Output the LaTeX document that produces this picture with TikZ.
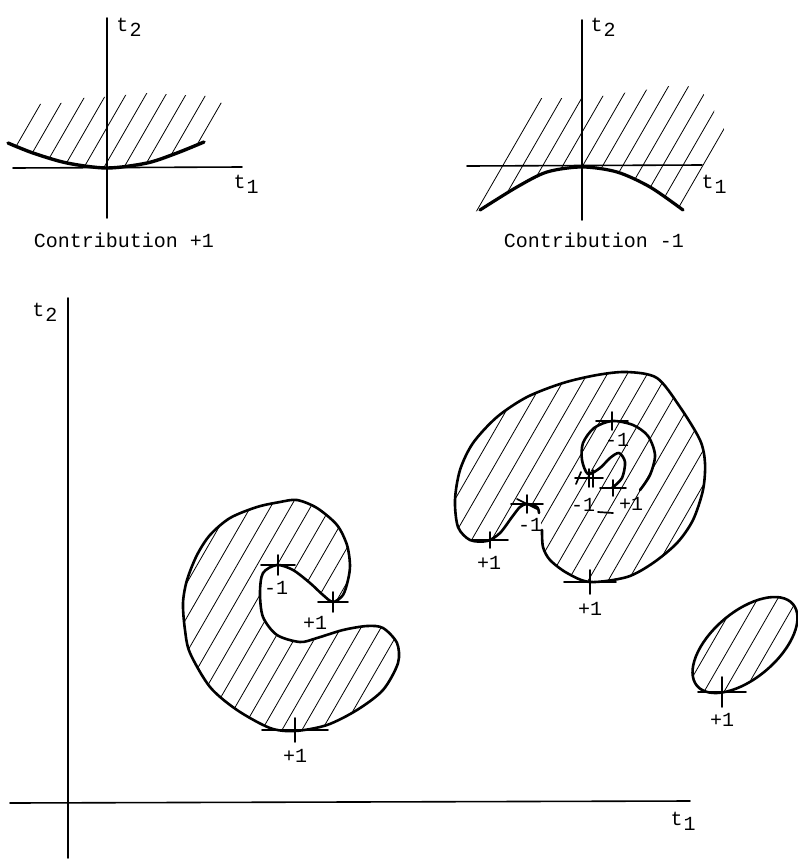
\documentclass[tikz,border=0pt]{standalone}
\usepackage{fontspec}
\setmonofont{Liberation Mono}

\tikzset{
  axis/.style={line width=1.6pt},
  bound/.style={line width=2.6pt},
  hatch/.style={line width=0.8pt},
  tanline/.style={line width=1.7pt},
  lbl/.style={font=\ttfamily\fontsize{20}{20}\selectfont, inner sep=0pt},
}
% hatch lines across the page, to be clipped
\newcommand{\hatchlines}[1]{\foreach \k in {-25,...,40} \draw[hatch] ({\k*20+#1},860) -- ++(496,-860);}
% tangent mark: point, half width, half height
\newcommand{\tanmark}[3]{\draw[tanline] (#1) ++(-#2,0) -- ++({2*#2},0);
  \draw[tanline] (#1) ++(0,-#3) -- ++(0,{2*#3});}
\newcommand{\tsub}[1]{t\kern1pt\raisebox{-0.5ex}{#1}}

\begin{document}
\begin{tikzpicture}[x=1pt,y=-1pt,line cap=round,line join=round]
\useasboundingbox (0,0) rectangle (798,860);

% ---- small picture: contribution +1
\begin{scope}
\clip plot[smooth] coordinates {(8,143) (33,153) (67,163) (107,168) (147,163) (177,153) (204,142)}
  -- (224,104) -- (206,96) -- (185,95) -- (146,93) -- (125,95) -- (103,97) -- (83,98) -- (61,103) -- (36,104) -- cycle;
\hatchlines{4.5}
\end{scope}
\draw[axis] (13,168) -- (242,167);
\draw[axis] (107,18) -- (107,218);
\draw[line width=3.4pt] plot[smooth] coordinates {(8,143) (33,153) (67,163) (107,168) (147,163) (177,153) (204,142)};
\node[lbl] (t2a) at (129,27) {\tsub{2}};
\node[lbl] (t1a) at (246,184) {\tsub{1}};
\node[lbl] (capa) at (124,240) {Contribution +1};

% ---- small picture: contribution -1
\begin{scope}
\clip plot[smooth] coordinates {(480,210) (517,187) (547,172) (582,167) (617,172) (650,187) (683,210)}
  -- (686,210) -- (726,132) -- (715,112) -- (705,95) -- (688,86) -- (667,86) -- (645,90) -- (623,93)
  -- (602,96) -- (580,98) -- (559,98) -- (535,98) -- (474,212) -- cycle;
\hatchlines{2.3}
\end{scope}
\draw[axis] (467,166) -- (702,165);
\draw[axis] (582,20) -- (582,220);
\draw[line width=3.2pt] plot[smooth] coordinates {(480,210) (517,187) (547,172) (582,167) (617,172) (650,187) (683,210)};
\node[lbl] (t2b) at (603,27) {\tsub{2}};
\node[lbl] (t1b) at (714,184) {\tsub{1}};
\node[lbl] (capb) at (594,240) {Contribution -1};

% ---- main axes
\draw[axis] (68,298) -- (68,858);
\draw[axis] (10,803) -- (690,801);
\node[lbl] (t2) at (45,312) {\tsub{2}};
\node[lbl] (t1) at (683,821) {\tsub{1}};

% left region (C shape)
\begin{scope}
\clip plot[smooth cycle] coordinates {(333,602) (343,595) (348,580) (350,565) (347,545) (337,525) (317,508) (297,500)
  (280,502) (257,507) (230,518) (210,535) (197,555) (187,580) (183,603) (185,630) (190,653) (210,687) (237,710)
  (270,728) (295,731) (327,725) (357,710) (383,690) (398,663) (397,643) (383,628) (367,626) (343,630) (317,638)
  (300,642) (277,635) (263,617) (260,593) (263,573) (277,565) (293,570) (310,583) (323,595)};
\hatchlines{7}
\end{scope}
\draw[bound] plot[smooth cycle] coordinates {(333,602) (343,595) (348,580) (350,565) (347,545) (337,525) (317,508) (297,500)
  (280,502) (257,507) (230,518) (210,535) (197,555) (187,580) (183,603) (185,630) (190,653) (210,687) (237,710)
  (270,728) (295,731) (327,725) (357,710) (383,690) (398,663) (397,643) (383,628) (367,626) (343,630) (317,638)
  (300,642) (277,635) (263,617) (260,593) (263,573) (277,565) (293,570) (310,583) (323,595)};

% middle region with the hole
\begin{scope}
\clip plot[smooth cycle] coordinates {(542,530) (543,547) (550,560) (567,573) (590,582) (627,577) (653,563) (677,543)
  (693,520) (703,490) (705,463) (700,440) (680,407) (657,378) (627,372) (597,375) (563,383) (527,397) (497,417)
  (473,443) (460,470) (455,500) (458,527) (470,540) (487,541) (500,533) (512,517) (520,507) (527,504) (537,507) (539,513)};
\hatchlines{7}
\end{scope}
\draw[bound] plot[smooth] coordinates {(542,530) (543,547) (550,560) (567,573) (590,582) (627,577) (653,563) (677,543)
  (693,520) (703,490) (705,463) (700,440) (680,407) (657,378) (627,372) (597,375) (563,383) (527,397) (497,417)
  (473,443) (460,470) (455,500) (458,527) (470,540) (487,541) (500,533) (512,517) (520,507) (527,504) (537,507) (539,513)};
\draw[bound] plot[smooth] coordinates {(640,490) (650,475) (655,455) (648,436) (633,425) (612,421) (594,428) (583,443)
  (582,460) (588,474) (600,468) (610,458) (619,453) (625,462) (622,478) (612,488)};
\draw[tanline] (598,512) -- (613,513);

% right region
\begin{scope}
\clip[rotate around={40.5:(745,645)}] (745,645) ellipse [x radius=63, y radius=33];
\hatchlines{7}
\end{scope}
\draw[bound, rotate around={40.5:(745,645)}] (745,645) ellipse [x radius=63, y radius=33];

% tangent points
\coordinate (A1) at (295,730);
\coordinate (A2) at (278,565);
\coordinate (A3) at (333,602);
\coordinate (B1) at (490,540);
\coordinate (B2) at (527,504);
\coordinate (B3) at (590,582);
\coordinate (B4) at (612,421);
\coordinate (B5) at (589,478);
\coordinate (B6) at (613,488);
\coordinate (C1) at (722,692);

\tanmark{A1}{33}{12}
\tanmark{A2}{17}{10}
\tanmark{A3}{15}{10}
\tanmark{B1}{18}{8}
\tanmark{B2}{16}{9}
\draw[tanline] (B2) ++(-10,-5) -- ++(20,10);
\tanmark{B3}{26}{12}
\tanmark{B4}{16}{9}
\tanmark{B5}{14}{9}
\draw[tanline] (B5) ++(4,-8) -- ++(0,17);
\draw[tanline] (B5) ++(-8,-6) -- ++(-5,12);
\tanmark{B6}{13}{8}
\tanmark{C1}{24}{15}

% labels
\node[lbl] (lA1) at (295,756) {+1};
\node[lbl] (lA2) at (276,588) {-1};
\node[lbl] (lA3) at (315,623) {+1};
\node[lbl] (lB1) at (489,563) {+1};
\node[lbl] (lB2) at (530,525) {-1};
\node[lbl] (lB3) at (590,609) {+1};
\node[lbl] (lB4) at (617,440) {-1};
\node[lbl] (lB5) at (583,505) {-1};
\node[lbl] (lB6) at (631,504) {+1};
\node[lbl] (lC1) at (722,720) {+1};
\end{tikzpicture}
\end{document}
